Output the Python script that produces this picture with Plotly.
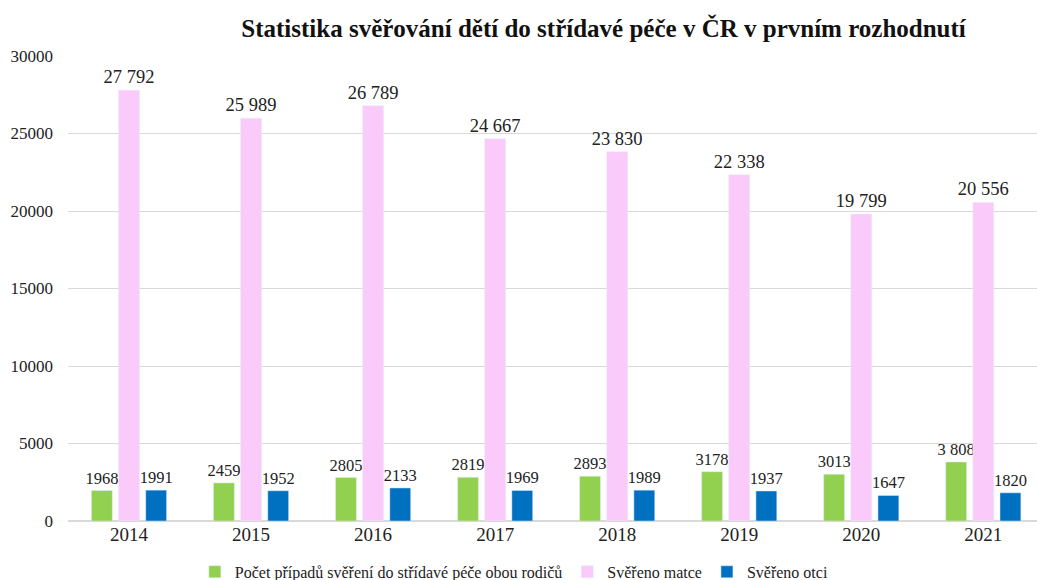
import plotly.graph_objects as go

years = ["2014", "2015", "2016", "2017", "2018", "2019", "2020", "2021"]
both_parents = [1968, 2459, 2805, 2819, 2893, 3178, 3013, 3808]
mother = [27792, 25989, 26789, 24667, 23830, 22338, 19799, 20556]
father = [1991, 1952, 2133, 1969, 1989, 1937, 1647, 1820]
both_labels = ["1968", "2459", "2805", "2819", "2893", "3178", "3013", "3 808"]
mother_labels = ["27 792", "25 989", "26 789", "24 667", "23 830", "22 338", "19 799", "20 556"]
father_labels = ["1991", "1952", "2133", "1969", "1989", "1937", "1647", "1820"]

names = ["Počet případů svěření do střídavé péče obou rodičů", "Svěřeno matce", "Svěřeno otci"]
colors = ["#92D050", "#FACBFA", "#0070C0"]

serif = "Liberation Serif"

fig = go.Figure()
for vals, labels, name, col, fs in [
    (both_parents, both_labels, names[0], colors[0], 16.5),
    (mother, mother_labels, names[1], colors[1], 18.5),
    (father, father_labels, names[2], colors[2], 16.5),
]:
    fig.add_trace(go.Bar(
        x=years, y=vals, name=name, marker_color=col,
        text=labels, textposition="outside", constraintext="none",
        textfont=dict(family=serif, size=fs, color="#222"),
        cliponaxis=False, hoverinfo="x+y",
    ))

fig.update_layout(
    width=1037, height=580,
    margin=dict(l=68, r=0, t=56, b=59, autoexpand=False),
    paper_bgcolor="white", plot_bgcolor="white",
    barmode="group", bargap=0.333, bargroupgap=0.23,
    title=dict(text="<b>Statistika svěřování dětí do střídavé péče v ČR v prvním rozhodnutí</b>",
               x=0.582, xanchor="center", y=0.952, yanchor="middle",
               font=dict(family=serif, size=25, color="#111")),
    font=dict(family=serif, color="#222"),
    showlegend=True,
    legend=dict(orientation="h", x=0.496, xanchor="center", xref="container",
                y=0.014, yanchor="middle", yref="container",
                font=dict(family=serif, size=16, color="#222"),
                traceorder="normal"),
    yaxis=dict(range=[0, 30000], dtick=5000, tickformat="d", showgrid=True,
               gridcolor="#D9D9D9", gridwidth=1, zeroline=True, zerolinecolor="#D9D9D9",
               tickfont=dict(family=serif, size=17, color="#222"), ticks="", ticklabelstandoff=14),
    xaxis=dict(range=[-0.5, 7.44], tickfont=dict(family=serif, size=19, color="#222"),
               showline=False, ticks=""),
)

fig.write_html("out.html", config={"displayModeBar": False},
               post_script="document.body.style.margin='0';")
